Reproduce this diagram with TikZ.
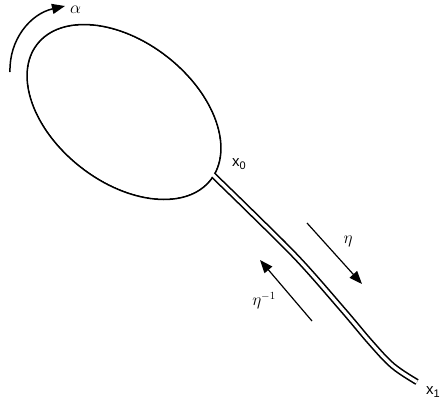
\documentclass[tikz,border=0pt]{standalone}
\usepackage{fontspec}
\newfontfamily\lab{Liberation Sans}
\usetikzlibrary{arrows.meta}
\tikzset{
  outline/.style={line width=1.8pt},
  stalk/.style={double=white, line width=1.6pt, double distance=3.2pt, line cap=butt},
  motion/.style={line width=1.2pt, -{Triangle[length=13pt,width=10pt]}},
  greek/.style={inner sep=0pt, font=\fontsize{16}{18}\selectfont},
  poslabel/.style={inner sep=0pt, font=\lab\fontsize{15}{17}\selectfont}
}
\begin{document}
\begin{tikzpicture}[x=1pt,y=-1pt]
\useasboundingbox (0,0) rectangle (442,405);
% cell body
\draw[outline, rotate around={-38:(124,112)}] (124,112) ellipse [x radius=110, y radius=70];
% stalk
\coordinate (s0) at (205,167);
\coordinate (s1) at (213,175);
\coordinate (s2) at (252,213);
\coordinate (s3) at (299,260);
\coordinate (s4) at (343,310);
\coordinate (s5) at (371,343);
\coordinate (s6) at (393,366);
\coordinate (x1end) at (417,382);
\draw[stalk] plot[smooth, tension=0.6] coordinates {(s0) (s1) (s2) (s3) (s4) (s5) (s6) (x1end)};
\fill[white, rotate around={-38:(124,112)}] (124,112) ellipse [x radius=109.1, y radius=69.1];
% rotation arrow
\coordinate (atail) at (10,72);
\coordinate (ahead) at (65,6);
\draw[line width=1.5pt, -{Triangle[length=13pt,width=10pt]}] (atail) .. controls (9,40) and (30,14) .. (ahead);
\node[greek, anchor=west] (alpha) at (70,10) {$\alpha$};
% labels
\node[poslabel] (x0) at (239,164) {x\raisebox{-0.3ex}{\fontsize{11}{11}\selectfont 0}};
\node[poslabel, anchor=west] (x1) at (426,392) {x\raisebox{-0.3ex}{\fontsize{11}{11}\selectfont 1}};
% eta arrows
\coordinate (etail) at (307,223);
\coordinate (ehead) at (362,284);
\draw[motion] (etail) -- (ehead);
\node[greek] (eta) at (348,241) {$\eta$};
\coordinate (itail) at (312,321);
\coordinate (ihead) at (260,260);
\draw[motion] (itail) -- (ihead);
\node[greek] (etainv) at (264,301) {$\eta^{-1}$};
\end{tikzpicture}
\end{document}
